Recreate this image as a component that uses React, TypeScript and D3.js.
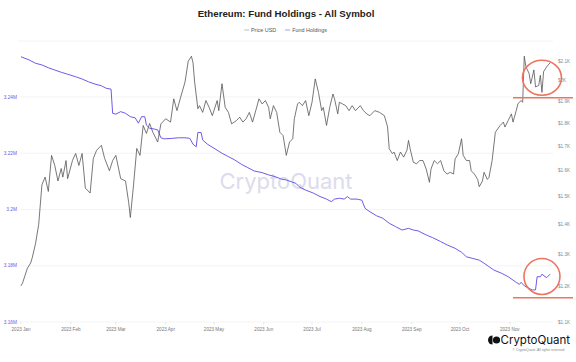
import * as d3 from "d3";

// ETH price (USD)
const priceDates = [
  "2023-01-01", "2023-01-02", "2023-01-05", "2023-01-07", "2023-01-08", "2023-01-10", "2023-01-12", "2023-01-14",
  "2023-01-16", "2023-01-18", "2023-01-20", "2023-01-22", "2023-01-24", "2023-01-26", "2023-01-27", "2023-01-29",
  "2023-01-30", "2023-02-02", "2023-02-04", "2023-02-06", "2023-02-08", "2023-02-10", "2023-02-13", "2023-02-15",
  "2023-02-17", "2023-02-20", "2023-02-22", "2023-02-25", "2023-02-27", "2023-03-01", "2023-03-04", "2023-03-07",
  "2023-03-09", "2023-03-10", "2023-03-12", "2023-03-14", "2023-03-16", "2023-03-18", "2023-03-20", "2023-03-22",
  "2023-03-24", "2023-03-27", "2023-03-29", "2023-04-01", "2023-04-04", "2023-04-06", "2023-04-08", "2023-04-10",
  "2023-04-13", "2023-04-15", "2023-04-17", "2023-04-18", "2023-04-19", "2023-04-21", "2023-04-22", "2023-04-24",
  "2023-04-26", "2023-04-28", "2023-04-30", "2023-05-03", "2023-05-04", "2023-05-06", "2023-05-08", "2023-05-10",
  "2023-05-12", "2023-05-15", "2023-05-17", "2023-05-19", "2023-05-21", "2023-05-23", "2023-05-25", "2023-05-27",
  "2023-05-29", "2023-05-31", "2023-06-02", "2023-06-04", "2023-06-05", "2023-06-07", "2023-06-09", "2023-06-11",
  "2023-06-13", "2023-06-15", "2023-06-17", "2023-06-19", "2023-06-20", "2023-06-22", "2023-06-23", "2023-06-25",
  "2023-06-27", "2023-06-29", "2023-07-01", "2023-07-03", "2023-07-05", "2023-07-07", "2023-07-08", "2023-07-10",
  "2023-07-12", "2023-07-14", "2023-07-15", "2023-07-17", "2023-07-18", "2023-07-20", "2023-07-22", "2023-07-24",
  "2023-07-26", "2023-07-28", "2023-07-31", "2023-08-02", "2023-08-04", "2023-08-06", "2023-08-09", "2023-08-12",
  "2023-08-15", "2023-08-17", "2023-08-18", "2023-08-20", "2023-08-21", "2023-08-23", "2023-08-25", "2023-08-27",
  "2023-08-29", "2023-08-30", "2023-08-31", "2023-09-02", "2023-09-04", "2023-09-06", "2023-09-08", "2023-09-10",
  "2023-09-12", "2023-09-13", "2023-09-15", "2023-09-17", "2023-09-19", "2023-09-21", "2023-09-23", "2023-09-25",
  "2023-09-27", "2023-09-28", "2023-09-30", "2023-10-02", "2023-10-03", "2023-10-05", "2023-10-07", "2023-10-08",
  "2023-10-10", "2023-10-12", "2023-10-13", "2023-10-15", "2023-10-16", "2023-10-18", "2023-10-19", "2023-10-21",
  "2023-10-23", "2023-10-26", "2023-10-28", "2023-10-29", "2023-10-31", "2023-11-02", "2023-11-03", "2023-11-05",
  "2023-11-06", "2023-11-08", "2023-11-09", "2023-11-10", "2023-11-11", "2023-11-13", "2023-11-14", "2023-11-16",
  "2023-11-17", "2023-11-19", "2023-11-20", "2023-11-21", "2023-11-22", "2023-11-24", "2023-11-26",
];
const priceUsd = [
  1203, 1212, 1257, 1273, 1290, 1335, 1400, 1545,
  1575, 1520, 1662, 1621, 1560, 1609, 1575, 1641,
  1569, 1641, 1670, 1621, 1670, 1533, 1514, 1650,
  1683, 1704, 1650, 1600, 1641, 1662, 1569, 1560,
  1478, 1425, 1545, 1691, 1662, 1790, 1755, 1799,
  1760, 1718, 1797, 1820, 1805, 1912, 1857, 1912,
  1993, 2099, 2125, 2090, 1993, 1866, 1880, 1849,
  1904, 1872, 1834, 1904, 1857, 1985, 1872, 1849,
  1797, 1812, 1827, 1805, 1820, 1849, 1805, 1857,
  1912, 1888, 1904, 1872, 1820, 1880, 1849, 1760,
  1746, 1662, 1718, 1732, 1820, 1888, 1896, 1880,
  1904, 1834, 1896, 2009, 1943, 1857, 1872, 1790,
  1872, 1935, 1912, 1842, 1896, 1888, 1880, 1857,
  1880, 1857, 1880, 1857, 1842, 1834, 1857, 1849,
  1834, 1783, 1690, 1669, 1676, 1641, 1676, 1655,
  1683, 1725, 1690, 1634, 1628, 1641, 1641, 1607,
  1555, 1607, 1641, 1628, 1641, 1600, 1587, 1594,
  1587, 1648, 1669, 1732, 1662, 1641, 1641, 1600,
  1587, 1566, 1538, 1560, 1594, 1566, 1573, 1641,
  1760, 1790, 1805, 1783, 1812, 1842, 1805, 1857,
  1888, 1904, 1896, 2125, 2071, 2036, 1985, 2054,
  1969, 1977, 2027, 1943, 2045, 2071, 2090,
];

// Fund holdings (millions of ETH)
const holdingDates = [
  "2023-01-01", "2023-01-06", "2023-01-10", "2023-01-14", "2023-01-18", "2023-01-22", "2023-01-26", "2023-01-30",
  "2023-02-04", "2023-02-08", "2023-02-12", "2023-02-16", "2023-02-20", "2023-02-23", "2023-02-26", "2023-02-27",
  "2023-03-01", "2023-03-04", "2023-03-07", "2023-03-10", "2023-03-13", "2023-03-15", "2023-03-17", "2023-03-19",
  "2023-03-20", "2023-03-22", "2023-03-25", "2023-03-27", "2023-03-29", "2023-03-31", "2023-04-05", "2023-04-09",
  "2023-04-13", "2023-04-16", "2023-04-18", "2023-04-20", "2023-04-21", "2023-04-23", "2023-04-24", "2023-04-27",
  "2023-05-01", "2023-05-06", "2023-05-10", "2023-05-14", "2023-05-18", "2023-05-22", "2023-05-26", "2023-05-31",
  "2023-06-04", "2023-06-08", "2023-06-12", "2023-06-15", "2023-06-18", "2023-06-21", "2023-06-23", "2023-06-27",
  "2023-07-02", "2023-07-06", "2023-07-10", "2023-07-13", "2023-07-15", "2023-07-18", "2023-07-21", "2023-07-23",
  "2023-07-25", "2023-07-29", "2023-08-01", "2023-08-03", "2023-08-06", "2023-08-10", "2023-08-14", "2023-08-18",
  "2023-08-22", "2023-08-26", "2023-08-30", "2023-09-02", "2023-09-05", "2023-09-08", "2023-09-11", "2023-09-14",
  "2023-09-19", "2023-09-23", "2023-09-28", "2023-10-02", "2023-10-05", "2023-10-09", "2023-10-13", "2023-10-16",
  "2023-10-19", "2023-10-22", "2023-10-27", "2023-10-31", "2023-11-03", "2023-11-05", "2023-11-07", "2023-11-08",
  "2023-11-10", "2023-11-12", "2023-11-15", "2023-11-17", "2023-11-18", "2023-11-20", "2023-11-21", "2023-11-23",
  "2023-11-24", "2023-11-26",
];
const holdingValues = [
  3.2543, 3.2532, 3.2520, 3.2514, 3.2504, 3.2496, 3.2488, 3.2481,
  3.2472, 3.2464, 3.2454, 3.2446, 3.2440, 3.2431, 3.2428, 3.2342,
  3.2339, 3.2348, 3.2342, 3.2330, 3.2326, 3.2307, 3.2330, 3.2330,
  3.2300, 3.2289, 3.2286, 3.2283, 3.2255, 3.2251, 3.2253, 3.2255,
  3.2255, 3.2253, 3.2232, 3.2223, 3.2274, 3.2274, 3.2247, 3.2232,
  3.2218, 3.2200, 3.2188, 3.2176, 3.2161, 3.2149, 3.2137, 3.2131,
  3.2123, 3.2117, 3.2108, 3.2105, 3.2099, 3.2093, 3.2081, 3.2069,
  3.2058, 3.2046, 3.2037, 3.2028, 3.2037, 3.2040, 3.2037, 3.2046,
  3.2037, 3.2037, 3.2033, 3.2004, 3.1992, 3.1978, 3.1969, 3.1951,
  3.1939, 3.1927, 3.1933, 3.1927, 3.1924, 3.1915, 3.1907, 3.1900,
  3.1886, 3.1874, 3.1862, 3.1848, 3.1832, 3.1826, 3.1820, 3.1809,
  3.1797, 3.1785, 3.1773, 3.1761, 3.1749, 3.1741, 3.1734, 3.1741,
  3.1729, 3.1722, 3.1714, 3.1714, 3.1761, 3.1761, 3.1770, 3.1761,
  3.1758, 3.1770,
];

const leftTicks = [3.16, 3.18, 3.2, 3.22, 3.24];
const leftTickLabels = ["3.16M", "3.18M", "3.2M", "3.22M", "3.24M"];
const rightTicks = [1100, 1200, 1300, 1400, 1500, 1600, 1700, 1800, 1900, 2000, 2100];
const rightTickLabels = ["$1.1K", "$1.2K", "$1.3K", "$1.4K", "$1.5K", "$1.6K", "$1.7K", "$1.8K", "$1.9K", "$2K", "$2.1K"];
const monthTicks = [
  "2023-01-01", "2023-02-01", "2023-03-01", "2023-04-01", "2023-05-01", "2023-06-01",
  "2023-07-01", "2023-08-01", "2023-09-01", "2023-10-01", "2023-11-01",
];
const monthLabels = [
  "2023 Jan", "2023 Feb", "2023 Mar", "2023 Apr", "2023 May", "2023 Jun",
  "2023 Jul", "2023 Aug", "2023 Sep", "2023 Oct", "2023 Nov",
];

// red annotations (hand drawn in the original)
const markDate = "2023-11-21";
const markLineStart = "2023-11-03";
const markPrice = 2015;
const markPriceFloor = 1917;
const markHolding = 3.1762;
const markHoldingFloor = 3.1686;

const W = 576;
const H = 362;
const plotLeft = 21;
const plotRight = 550;
const gridRight = 553;
const bottom = 322;

const font = "'Liberation Sans', Arial, sans-serif";
const purple = "#6c5ce7";
const red = "#ec7560";

export default function App() {
  const parse = d3.utcParse("%Y-%m-%d");
  const pDates = priceDates.map(d => parse(d) as Date);
  const hDates = holdingDates.map(d => parse(d) as Date);

  const x = d3.scaleUtc()
    .domain([parse("2023-01-01") as Date, parse("2023-11-26") as Date])
    .range([plotLeft, plotRight]);
  const yLeft = d3.scaleLinear().domain([3.16, 3.24]).range([bottom, 97]);
  const yRight = d3.scaleLog().domain([1100, 2100]).range([bottom, 61]);

  const priceLine = d3.line<number>()
    .x((_, i) => x(pDates[i]))
    .y(d => yRight(d));
  const holdLine = d3.line<number>()
    .x((_, i) => x(hDates[i]))
    .y(d => yLeft(d));

  const mx = x(parse(markDate) as Date);
  const lx1 = x(parse(markLineStart) as Date);

  return (
    <svg width={W} height={H} style={{ position: "absolute", left: 0, top: 0, background: "#fff" }}
      fontFamily={font}>
      <text x={286} y={16.8} textAnchor="middle" fontSize={9.7} fontWeight="bold" fill="#222">
        Ethereum: Fund Holdings - All Symbol
      </text>

      {/* legend */}
      <g fontSize={5.4} fill="#555">
        <line x1={244.3} x2={249} y1={30} y2={30} stroke="#bbb" strokeWidth={1} />
        <text x={251} y={31.9}>Price USD</text>
        <line x1={285} x2={290} y1={30} y2={30} stroke={purple} strokeOpacity={0.6} strokeWidth={1} />
        <text x={292.3} y={31.9}>Fund Holdings</text>
      </g>
      <line x1={18} x2={553} y1={41} y2={41} stroke="#f4f4f4" strokeWidth={1} />

      {/* grid + left axis */}
      {leftTicks.map((t, i) => (
        <g key={t}>
          <line x1={plotLeft - 1} x2={gridRight} y1={yLeft(t)} y2={yLeft(t)} stroke="#efefef" strokeWidth={0.7} />
          <text x={17} y={yLeft(t) + 1.6} textAnchor="end" fontSize={4.8} fill={purple}>{leftTickLabels[i]}</text>
        </g>
      ))}

      {/* right axis */}
      {rightTicks.map((t, i) => (
        <text key={t} x={558} y={yRight(t) + 1.6} fontSize={4.6} fill="#888">{rightTickLabels[i]}</text>
      ))}

      {/* x axis */}
      {monthTicks.map((m, i) => {
        const px = x(parse(m) as Date);
        return (
          <g key={m}>
            <line x1={px} x2={px} y1={bottom} y2={bottom + 2.5} stroke="#ddd" strokeWidth={0.7} />
            <text x={px} y={bottom + 8.5} textAnchor="middle" fontSize={4.6} fill="#777">{monthLabels[i]}</text>
          </g>
        );
      })}

      {/* watermark */}
      <text x={286} y={189} textAnchor="middle" fontSize={22} fill="#dcdcec" fontFamily="Inter, 'Liberation Sans', sans-serif">
        CryptoQuant
      </text>

      <path d={holdLine(holdingValues) ?? ""} fill="none" stroke={purple} strokeWidth={1} />
      <path d={priceLine(priceUsd) ?? ""} fill="none" stroke="#555" strokeWidth={0.8} />

      {/* annotations */}
      <g fill="none" stroke={red} strokeWidth={1.6}>
        <ellipse cx={mx} cy={yRight(markPrice)} rx={19.5} ry={17.5} />
        <line x1={lx1} x2={lx1 + 60} y1={yRight(markPriceFloor)} y2={yRight(markPriceFloor)} />
        <ellipse cx={mx} cy={yLeft(markHolding)} rx={18} ry={18} />
        <line x1={lx1} x2={lx1 + 60} y1={yLeft(markHoldingFloor)} y2={yLeft(markHoldingFloor)} />
      </g>

      {/* brand */}
      <g fill="#111">
        <path d="M492.5,335.5 a4.5,4.5 0 0 0 0,9 z" />
        <circle cx={496.5} cy={340} r={3.6} />
      </g>
      <text x={500.5} y={344} fontSize={11.5} fill="#111" fontFamily="Inter, 'Liberation Sans', sans-serif">CryptoQuant</text>
      <text x={565} y={350.5} textAnchor="end" fontSize={3.4} fill="#888">© CryptoQuant. All rights reserved.</text>
    </svg>
  );
}
